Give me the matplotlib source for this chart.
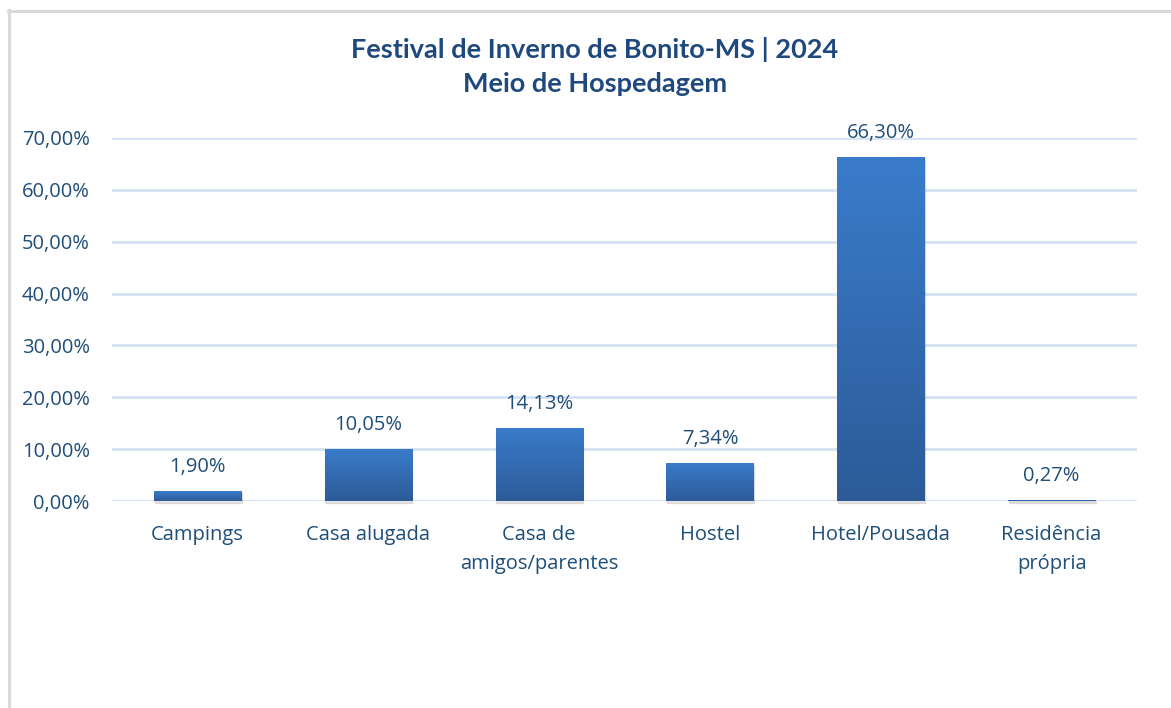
import matplotlib
matplotlib.use("Agg")
import matplotlib.pyplot as plt
import numpy as np
from matplotlib.colors import LinearSegmentedColormap
from matplotlib.patches import Rectangle
from matplotlib.ticker import FuncFormatter, MultipleLocator

categories = ["Campings", "Casa alugada", "Casa de\namigos/parentes", "Hostel",
              "Hotel/Pousada", "Residência\nprópria"]
values = [1.90, 10.05, 14.13, 7.34, 66.30, 0.27]
value_labels = ["1,90%", "10,05%", "14,13%", "7,34%", "66,30%", "0,27%"]
title = "Festival de Inverno de Bonito-MS | 2024\nMeio de Hospedagem"

plt.rcParams["font.family"] = ["Open Sans", "DejaVu Sans"]

W, H = 1171, 708
fig = plt.figure(figsize=(W / 100, H / 100), dpi=100)
fig.patch.set_facecolor("white")

fig.add_artist(plt.Line2D([8.5 / W, 8.5 / W], [0, 1 - 10 / H], color="#D9D9D9", lw=2.2,
                          transform=fig.transFigure))
fig.add_artist(plt.Line2D([8 / W, 1], [1 - 10.5 / H, 1 - 10.5 / H], color="#D9D9D9", lw=2.2,
                          transform=fig.transFigure))

left, right = 112 / W, 1137 / W
bottom, top = 1 - 501 / H, 1 - 138 / H
ax = fig.add_axes([left, bottom, right - left, top - bottom])
ax.set_xlim(-0.5, len(categories) - 0.5)
ax.set_ylim(0, 70)
ax.yaxis.set_major_locator(MultipleLocator(10))
ax.yaxis.set_major_formatter(FuncFormatter(lambda v, p: f"{v:.2f}".replace(".", ",") + "%"))
for s in ax.spines.values():
    s.set_visible(False)
ax.grid(axis="y", color="#D6E2F2", lw=2.0)
ax.set_axisbelow(True)
FS = 14.5
ax.tick_params(axis="both", length=0, labelsize=FS, labelcolor="#1F4E79")
ax.tick_params(axis="y", pad=16)
ax.tick_params(axis="x", pad=17)

x = np.arange(len(categories))
ax.set_xticks(x)
ax.set_xticklabels(categories, fontsize=FS, color="#1F4E79", linespacing=1.6)

cmap = LinearSegmentedColormap.from_list("g", ["#2C5B98", "#3A7CCB"])
grad = np.linspace(0, 1, 256).reshape(-1, 1)
bw = 0.51
bars = ax.bar(x, values, width=bw, color="#3470B8", zorder=2)
for b, v in zip(bars, values):
    sh = Rectangle((b.get_x() + 0.004, -0.35), bw, v, transform=ax.transData,
                   color="#000000", alpha=0.10, zorder=1.5, clip_on=False)
    ax.add_patch(sh)
    im = ax.imshow(grad, extent=[b.get_x(), b.get_x() + bw, 0, v], origin="lower",
                   cmap=cmap, aspect="auto", zorder=2.5)
    im.set_clip_path(b)
ax.set_xlim(-0.5, len(categories) - 0.5)
ax.set_ylim(0, 70)

for xi, v, lab in zip(x, values, value_labels):
    ax.annotate(lab, (xi, v), xytext=(0, 10), textcoords="offset points", ha="center",
                va="bottom", fontsize=FS, color="#1F4E79")

fig.text(595 / W, 1 - 67 / H, title, ha="center", va="center",
         fontsize=19.5, fontweight="bold", color="#1F497D", family="Lato", linespacing=1.5)

fig.savefig("out.png", dpi=100)
